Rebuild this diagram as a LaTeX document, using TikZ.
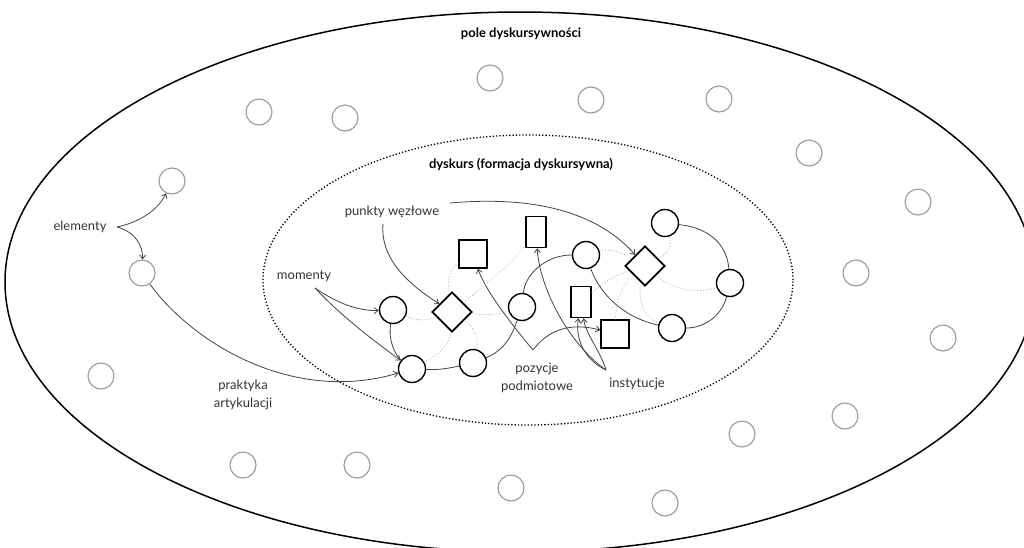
\documentclass[tikz,border=0pt]{standalone}
\usepackage{fontspec}
\setmainfont{Lato}
\usetikzlibrary{shapes.geometric,arrows.meta}
\definecolor{elemgray}{HTML}{999999}
\definecolor{lblc}{HTML}{333333}
\definecolor{conncolor}{HTML}{444444}
\definecolor{dotgray}{HTML}{AAAAAA}
\begin{document}
\begin{tikzpicture}[x=1pt,y=-1pt,
  elemnode/.style={circle,draw=elemgray,line width=1.1pt,minimum size=26pt,inner sep=0pt},
  momnode/.style={circle,draw=black,line width=1.4pt,minimum size=27pt,inner sep=0pt},
  sqnode/.style={rectangle,draw=black,line width=1.4pt,minimum size=28pt,inner sep=0pt},
  tallnode/.style={rectangle,draw=black,line width=1.4pt,minimum width=20pt,minimum height=31pt,inner sep=0pt},
  knotnode/.style={diamond,draw=black,line width=1.7pt,minimum size=40pt,inner sep=0pt},
  lbl/.style={text=lblc,font=\fontsize{13}{18}\selectfont,inner sep=0pt,align=center},
  ttl/.style={font=\bfseries\fontsize{13}{16}\selectfont,inner sep=0pt},
  conn/.style={draw=conncolor,line width=0.8pt},
  arr/.style={conn,-{Straight Barb[length=4pt,width=6pt]}},
  weak/.style={draw=dotgray,line width=0.8pt,dotted}
]
\useasboundingbox (0,0) rectangle (1024,547);
\fill[white] (0,0) rectangle (1024,547);
% outer field
\draw[line width=1.5pt] (520,282) ellipse [x radius=515pt, y radius=270pt];
% discourse
\draw[dotted, line width=1.3pt] (528,280) ellipse [x radius=265pt, y radius=145pt];

% titles
\node[ttl] (tpole) at (521,34) {pole dyskursywności};
\node[ttl] (tdysk) at (521,165) {dyskurs (formacja dyskursywna)};

% elements
\node[elemnode] (g1) at (490,78) {};
\node[elemnode] (g2) at (259,112) {};
\node[elemnode] (g3) at (345,118) {};
\node[elemnode] (g4) at (591,100) {};
\node[elemnode] (g5) at (719,99) {};
\node[elemnode] (g6) at (809,153) {};
\node[elemnode] (g7) at (918,202) {};
\node[elemnode] (g8) at (172,181) {};
\node[elemnode] (g9) at (142,273) {};
\node[elemnode] (g10) at (856,273) {};
\node[elemnode] (g11) at (943,338) {};
\node[elemnode] (g12) at (101,376) {};
\node[elemnode] (g13) at (845,416) {};
\node[elemnode] (g14) at (742,434) {};
\node[elemnode] (g15) at (243,465) {};
\node[elemnode] (g16) at (357,465) {};
\node[elemnode] (g17) at (511,488) {};
\node[elemnode] (g18) at (665,503) {};

% moments and nodal points
\node[momnode] (mA) at (393,310) {};
\node[momnode] (mB) at (412,369) {};
\node[momnode] (mC) at (473,363) {};
\node[momnode] (mD) at (522,307) {};
\node[momnode] (mE) at (586,255) {};
\node[momnode] (mF) at (665,223) {};
\node[momnode] (mG) at (730,283) {};
\node[momnode] (mH) at (672,328) {};
\node[knotnode] (k1) at (452,312) {};
\node[knotnode] (k2) at (645,266) {};
\node[sqnode] (s1) at (473,254) {};
\node[sqnode] (s2) at (615,334) {};
\node[tallnode] (r1) at (536,232) {};
\node[tallnode] (r2) at (581,302) {};

% labels
\node[lbl] (lelem) at (80,227) {elementy};
\node[lbl] (lpunk) at (392,212) {punkty węzłowe};
\node[lbl] (lmom) at (304,276) {momenty};
\node[lbl] (lprak) at (243,395) {praktyka\\artykulacji};
\node[lbl] (lpoz) at (537,378) {pozycje\\podmiotowe};
\node[lbl] (linst) at (637,384) {instytucje};

\coordinate (elemP) at (117,227);
\coordinate (momP) at (315,288);
\coordinate (punkP1) at (383,224);
\coordinate (punkP2) at (450,203);
\coordinate (pozP) at (533,350);
\coordinate (instP) at (606,370);

% arrows
\draw[arr] (elemP) .. controls (140,222) and (158,210) .. (g8);
\draw[arr] (elemP) .. controls (135,232) and (143,245) .. (g9);
\draw[arr] (g9) .. controls (190,340) and (290,405) .. (mB);
\draw[arr] (momP) .. controls (340,305) and (360,311) .. (mA);
\draw[arr] (momP) .. controls (345,320) and (380,345) .. (mB);
\draw[arr] (punkP1) .. controls (380,260) and (410,285) .. (k1);
\draw[arr] (punkP2) .. controls (540,195) and (600,215) .. (k2);
\draw[arr] (pozP) .. controls (512,325) and (485,290) .. (s1);
\draw[arr] (pozP) .. controls (548,330) and (570,322) .. (s2);
\draw[arr] (instP) .. controls (570,345) and (540,290) .. (r1);
\draw[arr] (instP) .. controls (585,360) and (575,340) .. (r2);
\draw[arr] (instP) .. controls (600,350) and (586,335) .. (r2);

% solid links
\draw[conn] (mA) .. controls (388,340) and (395,355) .. (mB);
\draw[conn] (mB) .. controls (440,370) and (450,368) .. (mC);
\draw[conn] (mC) .. controls (505,350) and (512,335) .. (mD);
\draw[conn] (mD) .. controls (525,275) and (545,255) .. (mE);
\draw[conn] (mE) .. controls (600,295) and (625,318) .. (mH);
\draw[conn] (mF) .. controls (710,228) and (727,245) .. (mG);
\draw[conn] (mG) .. controls (722,315) and (705,328) .. (mH);

% weak (dotted) links
\draw[weak] (mA) .. controls (418,322) and (428,320) .. (k1);
\draw[weak] (k1) .. controls (485,315) and (498,315) .. (mD);
\draw[weak] (k1) .. controls (447,280) and (450,268) .. (s1);
\draw[weak] (k1) .. controls (485,285) and (510,265) .. (r1);
\draw[weak] (k1) .. controls (450,345) and (438,355) .. (mB);
\draw[weak] (k1) .. controls (475,328) and (479,338) .. (mC);
\draw[weak] (mE) .. controls (610,248) and (620,252) .. (k2);
\draw[weak] (r2) .. controls (603,283) and (615,275) .. (k2);
\draw[weak] (s2) .. controls (616,300) and (622,285) .. (k2);
\draw[weak] (k2) .. controls (637,300) and (645,318) .. (mH);
\draw[weak] (k2) .. controls (675,292) and (700,293) .. (mG);
\draw[weak] (k2) .. controls (670,252) and (672,245) .. (mF);
\end{tikzpicture}
\end{document}
